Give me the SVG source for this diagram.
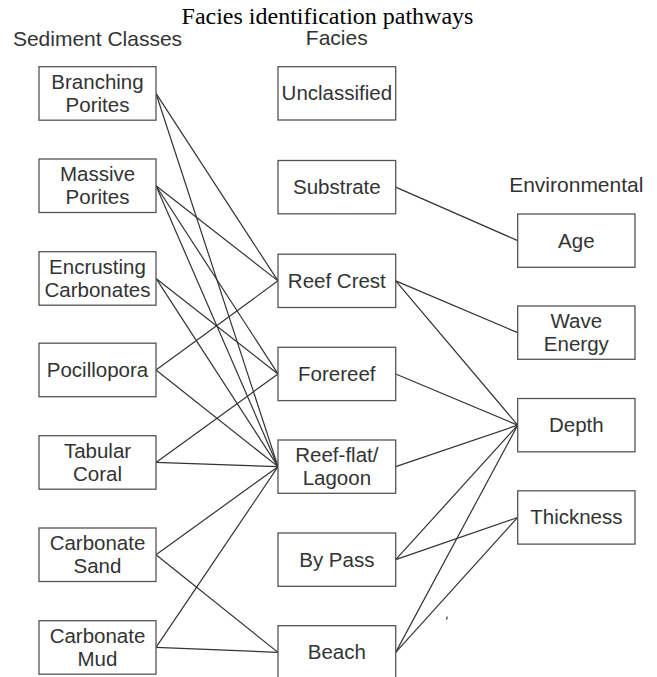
<svg xmlns="http://www.w3.org/2000/svg" width="657" height="677" viewBox="0 0 657 677">
<style>
  .box { fill: #ffffff; stroke: #555555; stroke-width: 1.3; }
  .lbl { font-family: "Liberation Sans", Arial, sans-serif; font-size: 20.5px; fill: #333333; text-anchor: middle; }
  .hdr { font-family: "Liberation Sans", Arial, sans-serif; font-size: 21px; fill: #333333; text-anchor: middle; }
  .title { font-family: "Liberation Serif", "Times New Roman", serif; font-size: 24px; fill: #000000; text-anchor: middle; }
  .conn line, .conn path { stroke: #333333; stroke-width: 1.2; fill: none; }
</style>
<rect x="0" y="0" width="657" height="677" fill="#ffffff"/>
<text class="title" x="327.5" y="23.5">Facies identification pathways</text>
<text class="hdr" x="97.5" y="45.7">Sediment Classes</text>
<text class="hdr" x="336.8" y="45.2">Facies</text>
<text class="hdr" x="576.3" y="192.3">Environmental</text>

<g id="connectors" class="conn">
  <line x1="156" y1="93.45" x2="278" y2="280.85"/>
  <line x1="156" y1="93.45" x2="278" y2="466.65"/>
  <line x1="156" y1="185.75" x2="278" y2="280.85"/>
  <line x1="156" y1="185.75" x2="278" y2="373.95"/>
  <line x1="156" y1="185.75" x2="278" y2="466.65"/>
  <line x1="156" y1="278.45" x2="278" y2="373.95"/>
  <line x1="156" y1="278.45" x2="278" y2="466.65"/>
  <line x1="156" y1="369.95" x2="278" y2="280.85"/>
  <line x1="156" y1="369.95" x2="278" y2="466.65"/>
  <line x1="156" y1="462.45" x2="278" y2="373.95"/>
  <line x1="156" y1="462.45" x2="278" y2="466.65"/>
  <line x1="156" y1="554.75" x2="278" y2="466.65"/>
  <line x1="156" y1="554.75" x2="278" y2="652.35"/>
  <line x1="156" y1="647.45" x2="278" y2="466.65"/>
  <line x1="156" y1="647.45" x2="278" y2="652.35"/>
  <line x1="395.7" y1="187.15" x2="517.7" y2="240.65"/>
  <line x1="395.7" y1="280.85" x2="517.7" y2="332.65"/>
  <line x1="395.7" y1="280.85" x2="517.7" y2="425.15"/>
  <line x1="395.7" y1="373.95" x2="517.7" y2="425.15"/>
  <line x1="395.7" y1="466.65" x2="517.7" y2="425.15"/>
  <line x1="395.7" y1="559.65" x2="517.7" y2="425.15"/>
  <line x1="395.7" y1="559.65" x2="517.7" y2="517.45"/>
  <line x1="395.7" y1="652.35" x2="517.7" y2="425.15"/>
  <line x1="395.7" y1="652.35" x2="517.7" y2="517.45"/>
  <path d="M447.2 616.6 L446.6 619.6"/>
</g>

<g id="branching-porites"><rect class="box" x="39" y="66.7" width="117" height="53.5"/><text class="lbl" x="97.5" y="89">Branching</text><text class="lbl" x="97.5" y="111.5">Porites</text></g>
<g id="massive-porites"><rect class="box" x="39" y="159" width="117" height="53.5"/><text class="lbl" x="97.5" y="181.3">Massive</text><text class="lbl" x="97.5" y="203.8">Porites</text></g>
<g id="encrusting-carbonates"><rect class="box" x="39" y="251.7" width="117" height="53.5"/><text class="lbl" x="97.5" y="274">Encrusting</text><text class="lbl" x="97.5" y="296.5">Carbonates</text></g>
<g id="pocillopora"><rect class="box" x="39" y="343.2" width="117" height="53.5"/><text class="lbl" x="97.5" y="377">Pocillopora</text></g>
<g id="tabular-coral"><rect class="box" x="39" y="435.7" width="117" height="53.5"/><text class="lbl" x="97.5" y="458">Tabular</text><text class="lbl" x="97.5" y="480.5">Coral</text></g>
<g id="carbonate-sand"><rect class="box" x="39" y="528" width="117" height="53.5"/><text class="lbl" x="97.5" y="550.3">Carbonate</text><text class="lbl" x="97.5" y="572.8">Sand</text></g>
<g id="carbonate-mud"><rect class="box" x="39" y="620.7" width="117" height="53.5"/><text class="lbl" x="97.5" y="643">Carbonate</text><text class="lbl" x="97.5" y="665.5">Mud</text></g>

<g id="unclassified"><rect class="box" x="278" y="66.7" width="117.7" height="53.3"/><text class="lbl" x="336.85" y="100.3">Unclassified</text></g>
<g id="substrate"><rect class="box" x="278" y="160.5" width="117.7" height="53.3"/><text class="lbl" x="336.85" y="194.1">Substrate</text></g>
<g id="reef-crest"><rect class="box" x="278" y="254.2" width="117.7" height="53.3"/><text class="lbl" x="336.85" y="287.8">Reef Crest</text></g>
<g id="forereef"><rect class="box" x="278" y="347.3" width="117.7" height="53.3"/><text class="lbl" x="336.85" y="380.9">Forereef</text></g>
<g id="reef-flat-lagoon"><rect class="box" x="278" y="440" width="117.7" height="53.3"/><text class="lbl" x="336.85" y="462.2">Reef-flat/</text><text class="lbl" x="336.85" y="484.7">Lagoon</text></g>
<g id="by-pass"><rect class="box" x="278" y="533" width="117.7" height="53.3"/><text class="lbl" x="336.85" y="566.6">By Pass</text></g>
<g id="beach"><rect class="box" x="278" y="625.7" width="117.7" height="53.3"/><text class="lbl" x="336.85" y="659.3">Beach</text></g>

<g id="age"><rect class="box" x="517.7" y="214" width="117.3" height="53.3"/><text class="lbl" x="576.35" y="247.6">Age</text></g>
<g id="wave-energy"><rect class="box" x="517.7" y="306" width="117.3" height="53.3"/><text class="lbl" x="576.35" y="328.3">Wave</text><text class="lbl" x="576.35" y="350.8">Energy</text></g>
<g id="depth"><rect class="box" x="517.7" y="398.5" width="117.3" height="53.3"/><text class="lbl" x="576.35" y="432.1">Depth</text></g>
<g id="thickness"><rect class="box" x="517.7" y="490.8" width="117.3" height="53.3"/><text class="lbl" x="576.35" y="524.4">Thickness</text></g>
</svg>
